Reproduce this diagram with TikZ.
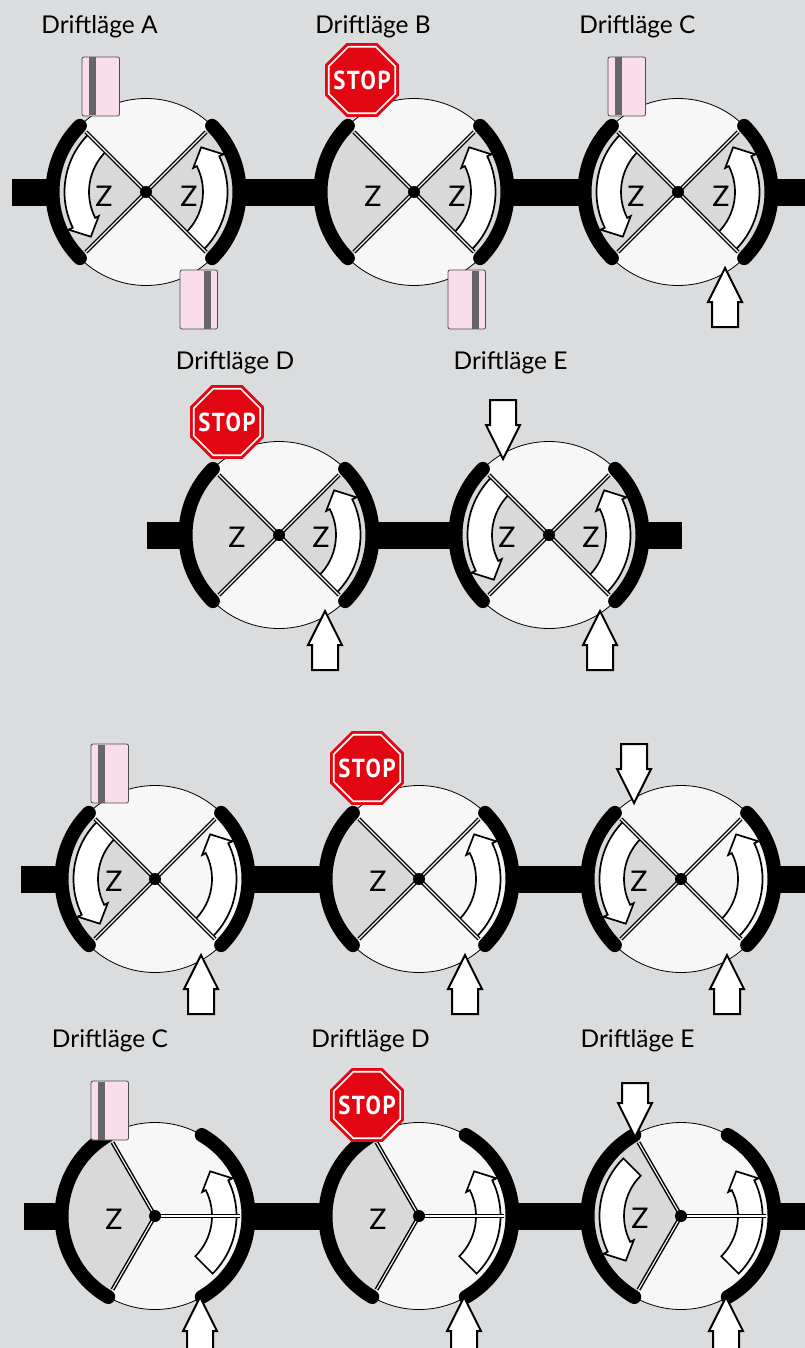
\documentclass[tikz,border=0pt]{standalone}
\usepackage{fontspec}
\setmainfont{Lato}
\newfontfamily\stopfont[LetterSpace=7]{PT Sans}
\usetikzlibrary{shapes.geometric}
\definecolor{pagecol}{HTML}{DBDCDE}
\definecolor{casingcol}{HTML}{F7F7F7}
\definecolor{zonecol}{HTML}{D9D9D9}
\definecolor{cardcol}{HTML}{FADCEA}
\definecolor{stripecol}{HTML}{666666}
\definecolor{stopcol}{HTML}{E30613}

\newcommand{\casing}{\draw[casing] (0,0) circle[radius=93.5];}
\newcommand{\zone}[2]{\fill[zonecol] (0,0) -- (#1:87) arc[start angle=#1,end angle=#2,radius=87] -- cycle;}
\newcommand{\flow}[1]{\draw[flowarrow,rotate=#1] (135:57) arc[start angle=135,end angle=207,radius=57] -- (207:53) -- (219:71) -- (206:86) -- (206:81.5) arc[start angle=206,end angle=135,radius=81.5] -- cycle;}
\newcommand{\spoke}[1]{\draw[spoke] (0,0) -- (#1:85);}
\newcommand{\seat}[2]{\draw[seat] (#1:93.5) arc[start angle=#1,end angle=#2,radius=93.5];}
\newcommand{\cardtop}[1]{\begin{scope}[xshift=#1]
	\draw[cardbox] (-64,76) rectangle (-26.5,135);
	\fill[stripecol] (-57,76.5) rectangle (-50,134.5);
	\end{scope}}
\newcommand{\cardbottom}{%
	\draw[cardbox] (34,-78) rectangle (71.5,-137);
	\fill[stripecol] (58,-78.5) rectangle (65,-136.5);}
\newcommand{\pushup}[1]{\draw[pusharrow,shift={(#1)}] (0,0) -- (17,-34) -- (13,-34) -- (13,-59) -- (-13,-59) -- (-13,-34) -- (-17,-34) -- cycle;}
\newcommand{\pushdown}[2]{\draw[pusharrow,shift={(#1)}] (0,0) -- (17,34) -- (13,34) -- (13,#2) -- (-13,#2) -- (-13,34) -- (-17,34) -- cycle;}

\begin{document}
\begin{tikzpicture}[
	x=1pt,
	y=1pt,
	casing/.style={draw=black, line width=0.8pt, fill=casingcol},
	flowarrow/.style={draw=black, line width=1.7pt, fill=white, miter limit=6},
	spoke/.style={draw=black, line width=1.5pt, double=white, double distance=1.1pt},
	seat/.style={draw=black, line width=14pt, line cap=round},
	pipe/.style={draw=black, line width=27pt},
	hub/.style={circle, fill=black, minimum size=12pt, inner sep=0pt},
	cardbox/.style={draw=black!70, line width=0.8pt, fill=cardcol, rounded corners=2pt},
	pusharrow/.style={draw=black, line width=2pt, fill=white, miter limit=8},
	zmark/.style={font=\fontsize{28.5}{28}\selectfont, inner sep=0pt},
	title/.style={font=\fontsize{24.5}{25}\selectfont, inner sep=0pt},
	stopsign/.style={regular polygon, regular polygon sides=8, fill=stopcol, minimum size=80pt, inner sep=0pt, outer sep=0pt},
	stopinner/.style={regular polygon, regular polygon sides=8, draw=white, line width=1.7pt, fill=stopcol, minimum size=72pt, inner sep=0pt},
	stoptext/.style={font=\stopfont\bfseries\fontsize{26}{26}\selectfont, text=white, inner sep=0pt, xscale=0.88}
	]
	\fill[pagecol] (0,0) rectangle (805,-1348);
	\clip (0,0) rectangle (805,-1348);
	
	% Valves
	\coordinate (a1) at (146,-192);
	\coordinate (b1) at (414,-192);
	\coordinate (c1) at (678,-192);
	\coordinate (d2) at (279,-535);
	\coordinate (e2) at (549,-535);
	\coordinate (a3) at (155,-879);
	\coordinate (b3) at (419,-879);
	\coordinate (c3) at (681,-879);
	\coordinate (c4) at (155,-1216);
	\coordinate (d4) at (419,-1216);
	\coordinate (e4) at (681,-1216);
	
	% Pipes
	\coordinate (p1s) at (12,-192.5);
	\coordinate (p1e) at (805,-192.5);
	\coordinate (p2s) at (147,-535);
	\coordinate (p2e) at (682,-535);
	\coordinate (p3s) at (21,-879);
	\coordinate (p3e) at (805,-879);
	\coordinate (p4s) at (24,-1216);
	\coordinate (p4e) at (805,-1216);
	\draw[pipe] (p1s) -- (p1e);
	\draw[pipe] (p2s) -- (p2e);
	\draw[pipe] (p3s) -- (p3e);
	\draw[pipe] (p4s) -- (p4e);
	
	% First row
	\begin{scope}[shift={(a1)}]
		\casing \zone{135}{225} \zone{-45}{45} \flow{0} \flow{180}
		\spoke{45} \spoke{135} \spoke{225} \spoke{-45}
		\seat{135}{225} \seat{-45}{45}
		\node[zmark] (za1l) at (-42,-4) {Z};
		\node[zmark] (za1r) at (43,-4) {Z};
		\node[hub] (ha1) at (0,0) {};
		\cardtop{0pt} \cardbottom
	\end{scope}
	\begin{scope}[shift={(b1)}]
		\casing \zone{135}{225} \zone{-45}{45} \flow{180}
		\spoke{45} \spoke{135} \spoke{225} \spoke{-45}
		\seat{135}{225} \seat{-45}{45}
		\node[zmark] (zb1l) at (-41,-4) {Z};
		\node[zmark] (zb1r) at (43,-4) {Z};
		\node[hub] (hb1) at (0,0) {};
		\cardbottom
		\node[stopsign] (sb1) at (-52,112) {};
		\node[stopinner] (ib1) at (-52,112) {};
		\node[stoptext] (tb1) at (-52,112) {STOP};
	\end{scope}
	\begin{scope}[shift={(c1)}]
		\casing \zone{135}{225} \zone{-45}{45} \flow{0} \flow{180}
		\spoke{45} \spoke{135} \spoke{225} \spoke{-45}
		\seat{135}{225} \seat{-45}{45}
		\node[zmark] (zc1l) at (-42,-4) {Z};
		\node[zmark] (zc1r) at (43,-4) {Z};
		\node[hub] (hc1) at (0,0) {};
		\cardtop{-6pt}
		\pushup{47,-76}
	\end{scope}
	
	% Second row
	\begin{scope}[shift={(d2)}]
		\casing \zone{135}{225} \zone{-45}{45} \flow{180}
		\spoke{45} \spoke{135} \spoke{225} \spoke{-45}
		\seat{135}{225} \seat{-45}{45}
		\node[zmark] (zd2l) at (-42,-2) {Z};
		\node[zmark] (zd2r) at (42,-2) {Z};
		\node[hub] (hd2) at (0,0) {};
		\node[stopsign] (sd2) at (-52,113) {};
		\node[stopinner] (id2) at (-52,113) {};
		\node[stoptext] (td2) at (-52,113) {STOP};
		\pushup{46,-76}
	\end{scope}
	\begin{scope}[shift={(e2)}]
		\casing \zone{135}{225} \zone{-45}{45} \flow{0} \flow{180}
		\spoke{45} \spoke{135} \spoke{225} \spoke{-45}
		\seat{135}{225} \seat{-45}{45}
		\node[zmark] (ze2l) at (-42,-2) {Z};
		\node[zmark] (ze2r) at (42,-2) {Z};
		\node[hub] (he2) at (0,0) {};
		\pushdown{-46,76}{59}
		\pushup{51,-76}
	\end{scope}
	
	% Third row
	\begin{scope}[shift={(a3)}]
		\casing \zone{135}{225} \flow{0} \flow{180}
		\spoke{45} \spoke{135} \spoke{225} \spoke{-45}
		\seat{135}{225} \seat{-45}{45}
		\node[zmark] (za3) at (-41,-2) {Z};
		\node[hub] (ha3) at (0,0) {};
		\cardtop{0pt}
		\pushup{46,-76}
	\end{scope}
	\begin{scope}[shift={(b3)}]
		\casing \zone{135}{225} \flow{180}
		\spoke{45} \spoke{135} \spoke{225} \spoke{-45}
		\seat{135}{225} \seat{-45}{45}
		\node[zmark] (zb3) at (-41,-2) {Z};
		\node[hub] (hb3) at (0,0) {};
		\node[stopsign] (sb3) at (-52,111) {};
		\node[stopinner] (ib3) at (-52,111) {};
		\node[stoptext] (tb3) at (-52,111) {STOP};
		\pushup{46,-76}
	\end{scope}
	\begin{scope}[shift={(c3)}]
		\casing \zone{135}{225} \flow{0} \flow{180}
		\spoke{45} \spoke{135} \spoke{225} \spoke{-45}
		\seat{135}{225} \seat{-45}{45}
		\node[zmark] (zc3) at (-42,-2) {Z};
		\node[hub] (hc3) at (0,0) {};
		\pushdown{-47,76}{59}
		\pushup{46,-76}
	\end{scope}
	
	% Fourth row
	\begin{scope}[shift={(c4)}]
		\casing \zone{120}{240} \flow{180}
		\spoke{0} \spoke{120} \spoke{240}
		\seat{120}{240} \seat{-60}{60}
		\node[zmark] (zc4) at (-41,-3) {Z};
		\node[hub] (hc4) at (0,0) {};
		\cardtop{0pt}
		\pushup{45,-81}
	\end{scope}
	\begin{scope}[shift={(d4)}]
		\casing \zone{120}{240} \flow{180}
		\spoke{0} \spoke{120} \spoke{240}
		\seat{120}{240} \seat{-60}{60}
		\node[zmark] (zd4) at (-41,-3) {Z};
		\node[hub] (hd4) at (0,0) {};
		\node[stopsign] (sd4) at (-52,111) {};
		\node[stopinner] (id4) at (-52,111) {};
		\node[stoptext] (td4) at (-52,111) {STOP};
		\pushup{45,-81}
	\end{scope}
	\begin{scope}[shift={(e4)}]
		\casing \zone{120}{240} \flow{0} \flow{180}
		\spoke{0} \spoke{120} \spoke{240}
		\seat{120}{240} \seat{-60}{60}
		\node[zmark] (ze4) at (-41,-2) {Z};
		\node[hub] (he4) at (0,0) {};
		\pushdown{-46,79}{54}
		\pushup{45,-81}
	\end{scope}
	
	% Titles
	\node[title] (t1a) at (99.5,-27) {Driftläge A};
	\node[title] (t1b) at (373,-27) {Driftläge B};
	\node[title] (t1c) at (637.5,-27) {Driftläge C};
	\node[title] (t2d) at (235,-363) {Driftläge D};
	\node[title] (t2e) at (510.5,-363) {Driftläge E};
	\node[title] (t4c) at (110,-1041) {Driftläge C};
	\node[title] (t4d) at (370.5,-1041) {Driftläge D};
	\node[title] (t4e) at (637.5,-1041) {Driftläge E};
\end{tikzpicture}
\end{document}
